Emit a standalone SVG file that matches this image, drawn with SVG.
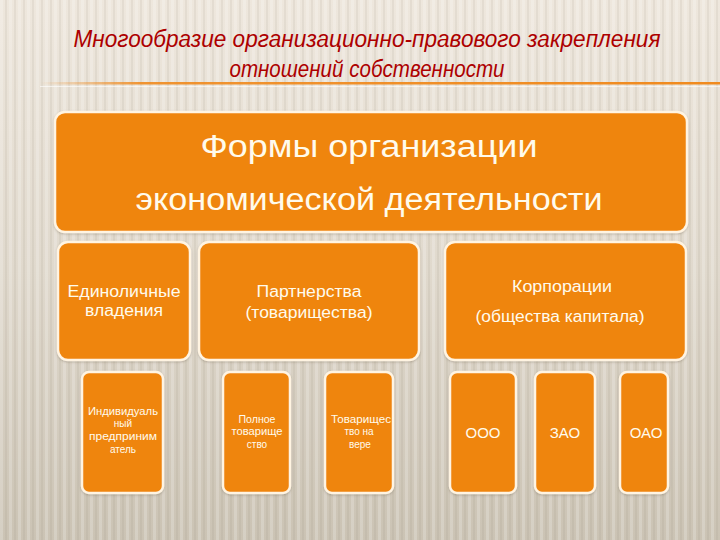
<svg xmlns="http://www.w3.org/2000/svg" width="720" height="540" viewBox="0 0 720 540">
<defs>
<linearGradient id="bg" x1="0" y1="0" x2="0" y2="1">
<stop offset="0" stop-color="#eee7dd"/>
<stop offset="0.5" stop-color="#e0d9cd"/>
<stop offset="1" stop-color="#cbc3b4"/>
</linearGradient>
<pattern id="stripes" width="9" height="540" patternUnits="userSpaceOnUse">
<rect x="0" y="0" width="3" height="540" fill="#ffffff" opacity="0.2"/>
<rect x="5" y="0" width="2" height="540" fill="#8a8070" opacity="0.1"/>
</pattern>
<linearGradient id="rule" x1="0" y1="0" x2="1" y2="0">
<stop offset="0" stop-color="#f08a1e" stop-opacity="0"/>
<stop offset="0.15" stop-color="#f08a1e" stop-opacity="0.9"/>
<stop offset="1" stop-color="#f08a1e"/>
</linearGradient>
<filter id="sh" x="-10%" y="-10%" width="120%" height="120%">
<feDropShadow dx="0" dy="1" stdDeviation="1.2" flood-color="#6b5a40" flood-opacity="0.35"/>
</filter>
</defs>
<style>
.box{fill:#ef850f;stroke:#fff4e2;stroke-width:2.5;filter:url(#sh)}
.t{font-family:"Liberation Sans",Arial,sans-serif;fill:#fffbec;text-anchor:middle}
.title{font-family:"Liberation Sans",Arial,sans-serif;font-style:italic;fill:#ad0000;text-anchor:middle;font-size:23px}
.big{font-size:31px}
.mid{font-size:16px}
.sm{font-size:10px}
.abbr{font-size:15px}
</style>
<rect width="720" height="540" fill="url(#bg)"/>
<rect width="720" height="540" fill="url(#stripes)"/>
<g id="title">
<text class="title" x="367" y="47" textLength="587" lengthAdjust="spacingAndGlyphs">Многообразие организационно-правового закрепления</text>
<text class="title" x="367" y="77" textLength="275" lengthAdjust="spacingAndGlyphs">отношений собственности</text>
<rect x="40" y="82" width="680" height="2.5" fill="url(#rule)"/>
<rect x="40" y="86" width="680" height="1" fill="#ffffff" opacity="0.6"/>
</g>
<g id="forms">
<rect class="box" x="55" y="112" width="632" height="120" rx="10"/>
<text class="t big" x="369" y="157" textLength="337" lengthAdjust="spacingAndGlyphs">Формы  организации</text>
<text class="t big" x="369" y="210" font-size="32" textLength="467" lengthAdjust="spacingAndGlyphs">экономической деятельности</text>
</g>
<g id="sole">
<rect class="box" x="58" y="242" width="132" height="118" rx="10"/>
<text class="t mid" x="124" y="297" textLength="113" lengthAdjust="spacingAndGlyphs">Единоличные</text>
<text class="t mid" x="124" y="316" textLength="78" lengthAdjust="spacingAndGlyphs">владения</text>
</g>
<g id="partnership">
<rect class="box" x="199" y="242" width="220" height="118" rx="10"/>
<text class="t mid" x="309" y="297" textLength="105" lengthAdjust="spacingAndGlyphs">Партнерства</text>
<text class="t mid" x="309" y="318" textLength="127" lengthAdjust="spacingAndGlyphs">(товарищества)</text>
</g>
<g id="corporation">
<rect class="box" x="445" y="242" width="241" height="118" rx="10"/>
<text class="t mid" x="562" y="292" textLength="100" lengthAdjust="spacingAndGlyphs">Корпорации</text>
<text class="t mid" x="560" y="322" textLength="169" lengthAdjust="spacingAndGlyphs">(общества капитала)</text>
</g>
<g id="individual">
<rect class="box" x="82" y="372" width="81" height="121" rx="7"/>
<text class="t sm" x="123" y="415" textLength="70" lengthAdjust="spacingAndGlyphs">Индивидуаль</text>
<text class="t sm" x="123" y="427">ный</text>
<text class="t sm" x="123" y="440" textLength="68" lengthAdjust="spacingAndGlyphs">предприним</text>
<text class="t sm" x="123" y="453">атель</text>
</g>
<g id="full">
<rect class="box" x="223" y="372" width="67" height="121" rx="7"/>
<text class="t sm" x="257" y="423" textLength="37" lengthAdjust="spacingAndGlyphs">Полное</text>
<text class="t sm" x="257" y="435" textLength="51" lengthAdjust="spacingAndGlyphs">товарище</text>
<text class="t sm" x="257" y="448">ство</text>
</g>
<g id="faith">
<rect class="box" x="325" y="372" width="68" height="121" rx="7"/>
<text class="t sm" x="361" y="423" textLength="60" lengthAdjust="spacingAndGlyphs">Товарищес</text>
<text class="t sm" x="359" y="435">тво на</text>
<text class="t sm" x="360" y="448">вере</text>
</g>
<g id="ooo">
<rect class="box" x="450" y="372" width="66" height="121" rx="7"/>
<text class="t abbr" x="483" y="438">ООО</text>
</g>
<g id="zao">
<rect class="box" x="535" y="372" width="60" height="121" rx="7"/>
<text class="t abbr" x="565" y="438">ЗАО</text>
</g>
<g id="oao">
<rect class="box" x="620" y="372" width="48" height="121" rx="7"/>
<text class="t abbr" x="646" y="438">ОАО</text>
</g>
</svg>
